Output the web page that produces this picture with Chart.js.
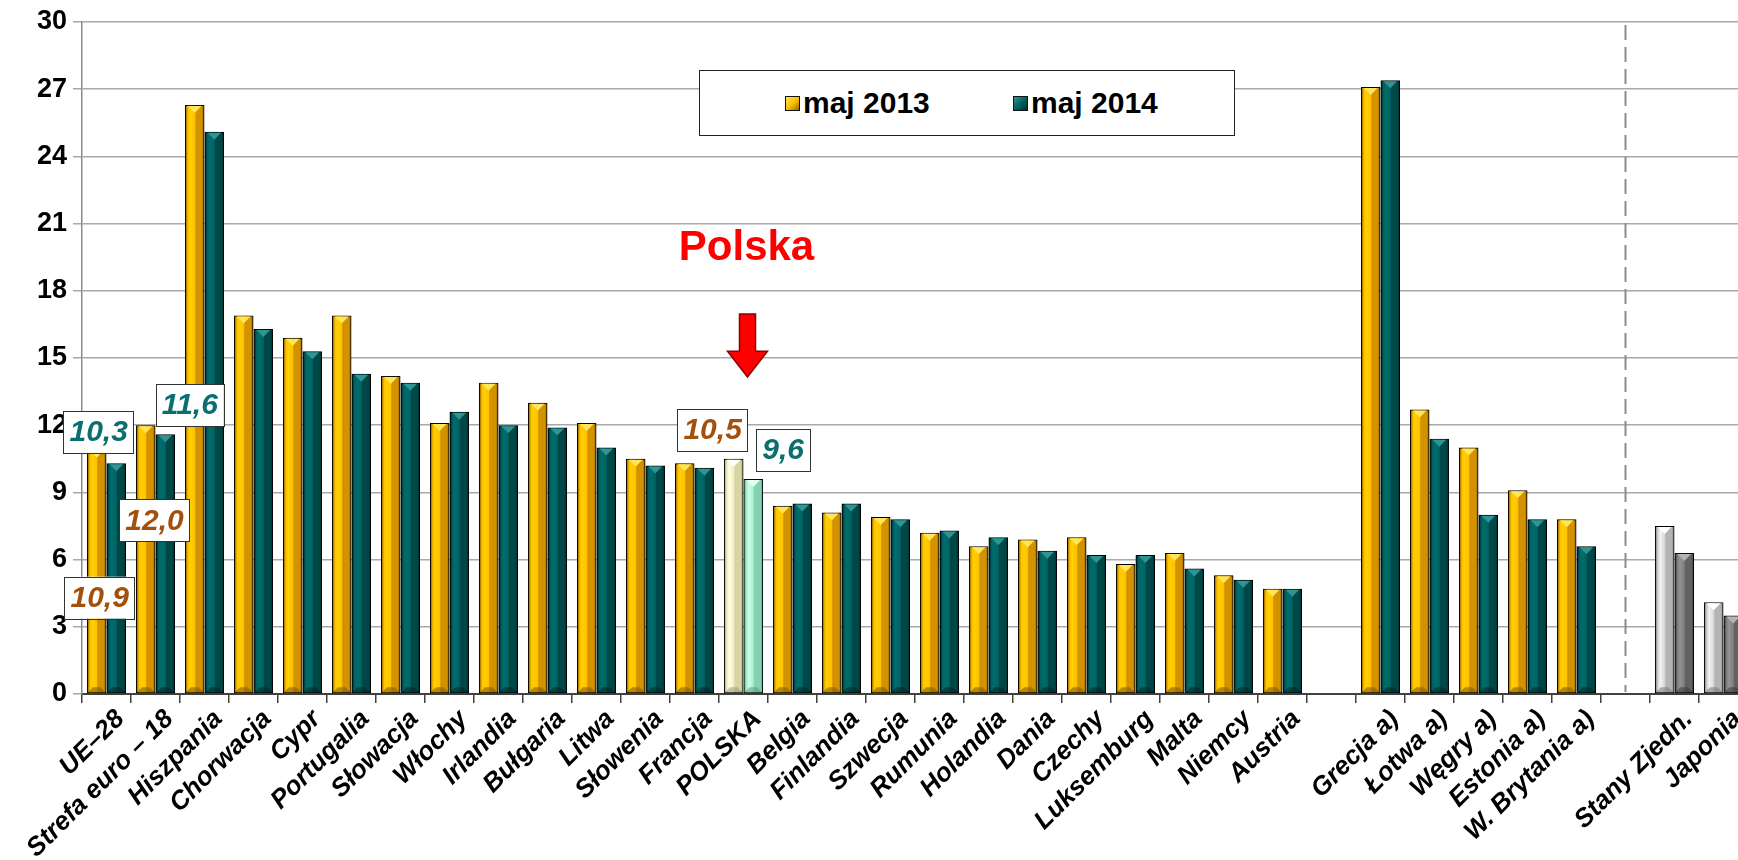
<!DOCTYPE html>
<html lang="pl">
<head>
<meta charset="utf-8">
<title>Stopa bezrobocia – maj 2013 / maj 2014</title>
<script src="https://cdn.jsdelivr.net/npm/chart.js@4.4.1/dist/chart.umd.min.js"></script>
<style>
  html, body { margin:0; padding:0; background:#fff; overflow:hidden; }
  #wrap { position:relative; width:1738px; height:860px; overflow:hidden; }
  #chart { position:absolute; left:0; top:0; }
  #legend {
    position:absolute; left:699px; top:70px; width:534px; height:64px;
    background:#fff; border:1.5px solid #222;
    font:bold 30px 'Liberation Sans', Arial, sans-serif; color:#000;
  }
  #legend .item { position:absolute; top:0; height:64px; display:flex; align-items:center; white-space:nowrap; }
  #legend .sw { width:13px; height:13px; border:1.5px solid #111; margin-right:3px; }
</style>
</head>
<body>
<div id="wrap">
  <canvas id="chart" width="1750" height="860"></canvas>
  <div id="legend"></div>
</div>
<script>
// ---------- dane
const categories = [
  'UE–28','Strefa euro – 18','Hiszpania','Chorwacja','Cypr','Portugalia','Słowacja','Włochy',
  'Irlandia','Bułgaria','Litwa','Słowenia','Francja','POLSKA','Belgia','Finlandia','Szwecja',
  'Rumunia','Holandia','Dania','Czechy','Luksemburg','Malta','Niemcy','Austria','',
  'Grecja a)','Łotwa a)','Węgry a)','Estonia a)','W. Brytania a)','','Stany Zjedn.','Japonia'
];
const maj2013 = [10.9,12.0,26.3,16.9,15.9,16.9,14.2,12.1,13.9,13.0,12.1,10.5,10.3,10.5,8.4,8.1,7.9,
  7.2,6.6,6.9,7.0,5.8,6.3,5.3,4.7,null,27.1,12.7,11.0,9.1,7.8,null,7.5,4.1];
const maj2014 = [10.3,11.6,25.1,16.3,15.3,14.3,13.9,12.6,12.0,11.9,11.0,10.2,10.1,9.6,8.5,8.5,7.8,
  7.3,7.0,6.4,6.2,6.2,5.6,5.1,4.7,null,27.4,11.4,8.0,7.8,6.6,null,6.3,3.5];
const seriesNames = ['maj 2013','maj 2014'];
const yTicks = [0,3,6,9,12,15,18,21,24,27,30];

// etykiety z wartościami (seria, indeks kategorii, tekst, przesunięcie w szer. kategorii, poziom y)
const valueLabels = [
  {ds:0, idx:0,  text:'10,9', dx:-0.14, yv:4.3},
  {ds:1, idx:0,  text:'10,3', dx:-0.16, yv:11.7},
  {ds:0, idx:1,  text:'12,0', dx:-0.02, yv:7.75},
  {ds:1, idx:1,  text:'11,6', dx:0.70,  yv:12.9},
  {ds:0, idx:13, text:'10,5', dx:-0.63, yv:11.8},
  {ds:1, idx:13, text:'9,6',  dx:0.81,  yv:10.9}
];
const polskaIdx = 13;
const separatorIdx = 31;

// ---------- kolory
const FONT = "'Liberation Sans', Arial, sans-serif";
const GOLD = '#FFC000', TEAL = '#006363', CREAM = '#F2EEC2', MINT = '#A4F0CE', LGREY = '#D6D6D6', DGREY = '#7E7E7E';
const shades = {
  [GOLD]:  {dark:'#9A6A00', light:'#FFD000', right:'#D39200', top:'#FFE55A', bot:'#7A5500'},
  [TEAL]:  {dark:'#002E2E', light:'#006C6C', right:'#004848', top:'#2E9494', bot:'#002424'},
  [CREAM]: {dark:'#B4B08A', light:'#FFFFE8', right:'#D8D4A4', top:'#FFFFFF', bot:'#99957A'},
  [MINT]:  {dark:'#6DB292', light:'#CCFFE8', right:'#86D2B0', top:'#E8FFF4', bot:'#5A9A7C'},
  [LGREY]: {dark:'#8E8E8E', light:'#F4F4F4', right:'#B4B4B4', top:'#FFFFFF', bot:'#777777'},
  [DGREY]: {dark:'#444444', light:'#949494', right:'#626262', top:'#B4B4B4', bot:'#3A3A3A'}
};
const colors2013 = categories.map((c,i)=> i===polskaIdx ? CREAM : (i>=32 ? LGREY : GOLD));
const colors2014 = categories.map((c,i)=> i===polskaIdx ? MINT : (i>=32 ? DGREY : TEAL));
const labelColors = ['#A3500C', '#0B6F6F'];

// ---------- legenda (HTML)
const legendEl = document.getElementById('legend');
[[GOLD,85],[TEAL,313]].forEach(([c,left],k)=>{
  const it = document.createElement('div');
  it.className='item'; it.style.left = left+'px';
  const sw = document.createElement('span');
  sw.className='sw';
  sw.style.background = `linear-gradient(135deg, ${shades[c].top} 0%, ${c} 50%, ${shades[c].dark} 100%)`;
  it.appendChild(sw);
  it.appendChild(document.createTextNode(seriesNames[k]));
  legendEl.appendChild(it);
});

// ---------- plugin: cieniowanie słupków (efekt 3D)
const bevelPlugin = {
  id:'bevel',
  afterDatasetsDraw(chart){
    const ctx = chart.ctx;
    chart.data.datasets.forEach((ds,di)=>{
      const meta = chart.getDatasetMeta(di);
      meta.data.forEach((bar,i)=>{
        if(ds.data[i]==null) return;
        const p = bar.getProps(['x','y','base','width'], true);
        const s = shades[ds.backgroundColor[i]];
        const l = p.x - p.width/2 + 1, r = p.x + p.width/2 - 1;
        const t = p.y + 1, b = p.base - 1;
        if(b - t < 2) return;
        ctx.save();
        const g = ctx.createLinearGradient(l,0,r,0);
        g.addColorStop(0, s.dark);
        g.addColorStop(0.12, ds.backgroundColor[i]);
        g.addColorStop(0.25, s.light);
        g.addColorStop(0.5, ds.backgroundColor[i]);
        g.addColorStop(0.56, s.right);
        g.addColorStop(0.9, s.right);
        g.addColorStop(1, s.dark);
        ctx.fillStyle = g;
        ctx.fillRect(l,t,r-l,b-t);
        const h = Math.min(7, (b-t)/2);
        // górny klin
        ctx.fillStyle = s.top;
        ctx.beginPath(); ctx.moveTo(l+2,t); ctx.lineTo(r-2,t); ctx.lineTo(p.x,t+h); ctx.closePath(); ctx.fill();
        // dolny klin
        ctx.fillStyle = s.bot; ctx.globalAlpha = 0.55;
        ctx.beginPath(); ctx.moveTo(l,b); ctx.lineTo(r,b); ctx.lineTo(r-5,b-5); ctx.lineTo(l+5,b-5); ctx.closePath(); ctx.fill();
        ctx.restore();
      });
    });
  }
};

// ---------- plugin: linia przerywana, etykiety, napis Polska i strzałka
const extrasPlugin = {
  id:'extras',
  beforeDatasetsDraw(chart){
    const {ctx, scales:{x}, chartArea} = chart;
    const sx = x.getPixelForValue(separatorIdx);
    ctx.save();
    ctx.strokeStyle = '#8C8C8C'; ctx.lineWidth = 2; ctx.setLineDash([15,7]);
    ctx.beginPath(); ctx.moveTo(sx, chartArea.top+3); ctx.lineTo(sx, chartArea.bottom-2); ctx.stroke();
    ctx.restore();
  },
  afterDraw(chart){
    const {ctx, scales:{x,y}} = chart;
    const cw = x.width / categories.length;
    ctx.save();
    ctx.font = `italic bold 30px ${FONT}`;
    ctx.textAlign = 'center'; ctx.textBaseline = 'middle';
    valueLabels.forEach(v=>{
      const cx = x.getPixelForValue(v.idx) + v.dx*cw;
      const cy = y.getPixelForValue(v.yv);
      const w = ctx.measureText(v.text).width + 12, h = 42;
      ctx.fillStyle = '#fff';
      ctx.fillRect(cx-w/2, cy-h/2, w, h);
      ctx.strokeStyle = '#333'; ctx.lineWidth = 1;
      ctx.strokeRect(Math.round(cx-w/2)+0.5, Math.round(cy-h/2)+0.5, Math.round(w), h);
      ctx.fillStyle = labelColors[v.ds];
      ctx.fillText(v.text, cx, cy+1);
    });
    // Polska
    const px = x.getPixelForValue(polskaIdx);
    ctx.font = `bold 42px ${FONT}`;
    ctx.fillStyle = '#FF0000';
    ctx.fillText('Polska', px+3, y.getPixelForValue(19.9));
    // strzałka
    const yTop = y.getPixelForValue(16.96), yHead = y.getPixelForValue(15.3), yTip = y.getPixelForValue(14.15);
    const ax = px + 4;
    ctx.beginPath();
    ctx.moveTo(ax-8, yTop); ctx.lineTo(ax+8, yTop); ctx.lineTo(ax+8, yHead);
    ctx.lineTo(ax+20, yHead); ctx.lineTo(ax, yTip); ctx.lineTo(ax-20, yHead);
    ctx.lineTo(ax-8, yHead); ctx.closePath();
    ctx.fillStyle = '#FF0000'; ctx.fill();
    ctx.strokeStyle = '#8B0000'; ctx.lineWidth = 1.5; ctx.stroke();
    ctx.restore();
  }
};

// ---------- wykres
const ctx = document.getElementById('chart').getContext('2d');
new Chart(ctx, {
  type:'bar',
  data:{
    labels: categories,
    datasets:[
      {label:seriesNames[0], data:maj2013, backgroundColor:colors2013, borderColor:'#000', borderWidth:2, borderSkipped:false},
      {label:seriesNames[1], data:maj2014, backgroundColor:colors2014, borderColor:'#000', borderWidth:2, borderSkipped:false}
    ]
  },
  options:{
    responsive:false,
    animation:false,
    layout:{ padding:{top:22, right:2, left:0, bottom:0} },
    plugins:{ legend:{display:false}, tooltip:{enabled:false} },
    datasets:{ bar:{ categoryPercentage:0.8, barPercentage:1.0 } },
    scales:{
      x:{
        offset:true,
        grid:{ display:true, drawOnChartArea:false, offset:true, tickLength:9, color:'#404040', lineWidth:1.5 },
        border:{ color:'#404040', width:2 },
        ticks:{ autoSkip:false, maxRotation:45, minRotation:45, color:'#000', padding:1, labelOffset:14,
                font:{ family:FONT, size:26, weight:'bold', style:'italic' } },
        afterFit(s){ s.height = 166; s.paddingLeft = 0; s.paddingRight = 0; }
      },
      y:{
        min:0, max:30,
        afterBuildTicks(s){ s.ticks = yTicks.map(v=>({value:v})); },
        grid:{ color:'#A9A9A9', lineWidth:1.5, tickLength:9 },
        border:{ color:'#8A8A8A', width:1.5 },
        ticks:{ color:'#000', padding:6, font:{ family:FONT, size:27, weight:'bold' } },
        afterFit(s){ s.width = 82; s.paddingTop = 0; s.paddingBottom = 0; }
      }
    }
  },
  plugins:[bevelPlugin, extrasPlugin]
});
</script>
</body>
</html>
